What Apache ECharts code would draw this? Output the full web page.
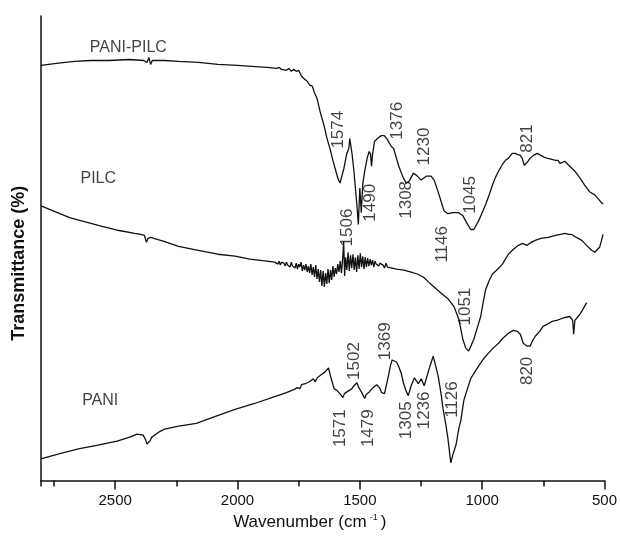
<!DOCTYPE html>
<html>
<head>
<meta charset="utf-8">
<script src="https://cdn.jsdelivr.net/npm/echarts@6/dist/echarts.min.js"></script>
<style>html,body{margin:0;padding:0;background:#fff}#c{width:620px;height:536px}</style>
</head>
<body>
<div id="c"></div>
<script>
// x tick labels (wavenumber, cm-1)
const xTickLabels = [2500, 2000, 1500, 1000, 500];

// PANI-PILC spectrum [wavenumber, transmittance (arb.)]
const paniPilc = [
[2803,420],[2740,422],[2666,424],[2600,425],[2525,425],[2440,426],[2383,425],[2370,423],[2362,428],[2355,421],[2348,425],[2300,425],[2240,424],[2160,423],[2080,421],[2000,420],[1940,419],[1880,418],[1840,417],[1830,418],[1820,416],[1812,418],[1800,415],[1790,417],[1780,414],[1770,416],[1760,414],[1750,415],[1740,410],[1730,407],[1715,404],[1705,400],[1694,399],[1685,392],[1674,386],[1662,373],[1646,359],[1634,346],[1622,336],[1609,323],[1601,316],[1590,306],[1581,301],[1574,303],[1565,316],[1553,331],[1545,336],[1541,346],[1532,331],[1524,313],[1512,279],[1506,259],[1500,296],[1494,271],[1488,300],[1480,313],[1470,326],[1462,333],[1456,330],[1452,318],[1448,330],[1440,343],[1428,346],[1412,349],[1400,349],[1390,346],[1383,346],[1371,338],[1362,336],[1350,326],[1342,319],[1322,306],[1310,301],[1298,303],[1281,311],[1269,309],[1249,304],[1229,308],[1209,308],[1196,304],[1176,289],[1156,273],[1140,270],[1120,271],[1095,271],[1079,268],[1059,259],[1047,254],[1034,254],[1014,263],[1000,271],[986,279],[970,290],[958,299],[945,307],[933,313],[917,320],[905,324],[893,326],[877,331],[865,331],[856,330],[844,329],[836,326],[828,319],[822,317],[816,322],[804,326],[790,329],[775,331],[760,329],[745,327],[731,326],[715,325],[700,324],[690,324],[682,321],[674,323],[662,323],[642,318],[621,313],[600,306],[581,299],[560,292],[540,289],[525,285],[512,281],[505,280]
];

// PILC spectrum
const pilc = [
[2803,278],[2686,266],[2565,258],[2484,253],[2420,250],[2395,249],[2380,248],[2372,241],[2366,245],[2360,244],[2354,246],[2342,245],[2300,242],[2241,237],[2160,233],[2080,229],[2010,227],[1950,224],[1880,222],[1848,221],
[1840,221],[1835,219],[1830,222],[1825,218],[1820,221],[1815,219],[1810,220],[1805,217],[1800,221],[1795,218],[1790,220],[1785,216],[1780,221],[1775,217],[1770,219],[1765,215],[1760,220],[1755,214],[1750,219],[1745,216],[1740,221],[1735,212],[1730,218],[1725,213],[1720,219],[1715,211],[1710,217],[1705,210],[1700,219],[1695,208],[1690,216],[1685,206],[1680,218],[1675,204],[1670,214],[1665,201],[1660,213],[1655,197],[1650,212],[1645,196],[1640,210],[1635,199],[1630,214],[1625,200],[1620,213],[1615,203],[1610,217],[1605,206],[1600,215],[1595,209],[1590,219],[1585,211],[1580,222],[1575,210],[1570,225],[1566,242],[1562,207],[1558,226],[1553,213],[1548,231],[1543,212],[1538,228],[1533,215],[1528,229],[1523,213],[1518,226],[1513,211],[1508,228],[1503,214],[1498,230],[1493,216],[1488,227],[1483,214],[1478,226],[1473,216],[1468,225],[1463,217],[1458,224],[1453,218],[1448,223],[1443,216],[1438,222],[1433,219],[1428,221],[1423,217],[1418,220],[1413,219],[1405,218],[1399,215],[1393,220],[1387,216],[1380,215],
[1350,214],[1320,213],[1290,211],[1265,209],[1241,206],[1215,200],[1188,194],[1165,189],[1140,184],[1115,176],[1095,163],[1079,143],[1067,134],[1055,131],[1047,132],[1034,143],[1018,156],[1006,166],[996,180],[986,193],[972,202],[958,209],[940,213],[917,219],[905,224],[893,229],[872,234],[852,238],[835,240],[816,238],[800,241],[783,243],[760,245],[731,246],[700,248],[680,249],[662,250],[645,249],[634,249],[615,246],[593,243],[573,238],[553,233],[540,231],[532,231],[520,236],[512,243],[506,249]
];

// PANI spectrum
const pani = [
[2803,22],[2730,27],[2650,32],[2570,36],[2492,40],[2440,44],[2411,47],[2385,46],[2375,41],[2370,37],[2364,38],[2358,40],[2350,44],[2322,49],[2298,52],[2240,55],[2168,58],[2090,65],[2010,72],[1930,78],[1848,85],[1800,89],[1770,92],[1755,94],[1745,93],[1738,97],[1730,95],[1723,98],[1715,96],[1706,100],[1698,98],[1690,103],[1682,100],[1674,104],[1666,103],[1658,107],[1650,105],[1642,110],[1634,109],[1628,114],[1622,108],[1618,104],[1605,93],[1593,91],[1581,88],[1575,86],[1569,84],[1563,88],[1557,87],[1545,91],[1532,93],[1524,96],[1516,95],[1512,99],[1504,94],[1492,89],[1486,86],[1480,83],[1474,87],[1468,88],[1460,90],[1452,91],[1446,94],[1439,96],[1431,97],[1423,98],[1417,93],[1411,89],[1405,88],[1399,88],[1391,97],[1383,106],[1375,116],[1368,122],[1362,123],[1350,120],[1342,116],[1330,108],[1322,99],[1310,90],[1302,86],[1290,96],[1277,104],[1269,102],[1261,98],[1249,103],[1237,96],[1225,106],[1213,116],[1200,126],[1188,114],[1180,106],[1168,88],[1160,73],[1148,56],[1140,43],[1132,26],[1128,18],[1120,26],[1107,36],[1095,53],[1087,61],[1075,81],[1060,93],[1047,103],[1030,110],[1014,116],[995,123],[974,129],[955,134],[933,139],[915,144],[893,149],[873,152],[856,151],[844,148],[832,139],[816,136],[804,136],[795,141],[783,146],[765,151],[751,156],[735,158],[715,161],[695,162],[674,164],[660,165],[642,166],[634,164],[630,162],[626,148],[621,162],[617,164],[601,168],[589,173],[573,180]
];

// peak annotations [wavenumber, transmittance, text]
const peakLabels = [
[1586,355,'1574'],[1553,256,'1506'],[1456,281,'1490'],[1347,364,'1376'],[1310,284,'1308'],[1238,338,'1230'],[1161,239,'1146'],[1047,289,'1045'],[815,346,'821'],
[1067,176,'1051'],
[1523,121,'1502'],[1395,141,'1369'],[1580,53,'1571'],[1465,53,'1479'],[1310,61,'1305'],[1236,71,'1236'],[1120,82,'1126'],[817,111,'820']
];

// curve names [wavenumber, transmittance, text]
const curveNames = [
[2446,438,'PANI-PILC'],[2569,306,'PILC'],[2561,81,'PANI']
];

const FONT = '"Liberation Sans", Arial, sans-serif';
const chart = echarts.init(document.getElementById('c'), null, {renderer: 'canvas'});
const lineStyle = {color: '#111', width: 1.3};
const mkLine = (name, data) => ({
  name, type: 'line', data, showSymbol: false, symbol: 'none',
  lineStyle, silent: true, animation: false
});
chart.setOption({
  animation: false,
  grid: {left: 41, right: 10, top: 16, bottom: 50},
  xAxis: [{
    type: 'value', inverse: true, min: 500, max: 2803, interval: 500,
    name: 'Wavenumber (cm{sup|-1})', nameLocation: 'middle', nameGap: 30,
    nameTextStyle: {fontFamily: FONT, fontSize: 17, color: '#111', padding: [0, 26, 0, 0],
      rich: {sup: {fontSize: 9, verticalAlign: 'top', padding: [0, 3, 9, 3], fontFamily: FONT, color: '#111'}}},
    axisLine: {show: true, onZero: false, lineStyle: {color: '#111', width: 1.5}},
    axisTick: {show: true, inside: false, length: 9, lineStyle: {color: '#111', width: 1.5}},
    axisLabel: {show: true, margin: 13, fontFamily: FONT, fontSize: 15, color: '#111',
      showMaxLabel: false,
      formatter: v => (xTickLabels.indexOf(v) >= 0 ? String(v) : '')},
    splitLine: {show: false}
  }, {
    type: 'value', inverse: true, min: 500, max: 2803, interval: 250,
    position: 'bottom',
    axisLine: {show: false},
    axisTick: {show: true, length: 6, lineStyle: {color: '#111', width: 1.5}},
    axisLabel: {show: false},
    splitLine: {show: false}
  }],
  yAxis: {
    type: 'value', min: 0, max: 470,
    name: 'Transmittance (%)', nameLocation: 'middle', nameGap: 13, nameRotate: 90,
    nameTextStyle: {fontFamily: FONT, fontSize: 18, fontWeight: 'bold', color: '#111', padding: [0, 30, 0, 0]},
    axisLine: {show: true, lineStyle: {color: '#111', width: 1.5}},
    axisTick: {show: false}, axisLabel: {show: false}, splitLine: {show: false}
  },
  series: [
    mkLine('PANI-PILC', paniPilc),
    mkLine('PILC', pilc),
    mkLine('PANI', pani),
    {
      type: 'scatter', data: peakLabels, symbolSize: 0, silent: true,
      label: {show: true, position: 'inside', rotate: 90, align: 'center', verticalAlign: 'middle',
        fontFamily: FONT, fontSize: 17, color: '#111', formatter: p => p.data[2]}
    },
    {
      type: 'scatter', data: curveNames, symbolSize: 0, silent: true,
      label: {show: true, position: 'inside', align: 'center', verticalAlign: 'middle',
        fontFamily: FONT, fontSize: 16, color: '#111', formatter: p => p.data[2]}
    }
  ]
});
</script>
</body>
</html>
